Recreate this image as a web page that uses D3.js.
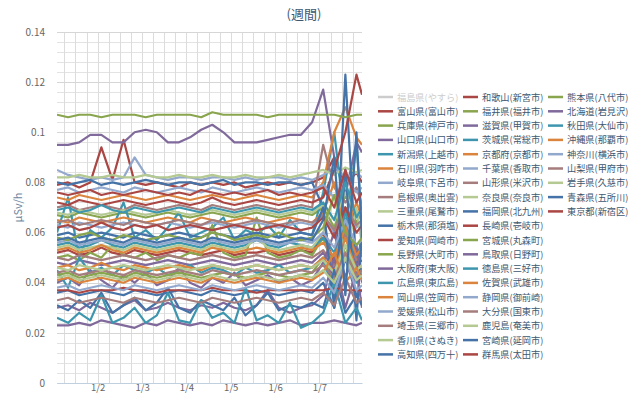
<!DOCTYPE html>
<html lang="ja">
<head>
<meta charset="UTF-8">
<title>週間</title>
<script src="https://cdn.jsdelivr.net/npm/d3@7"></script>
<style>
  body { margin: 0; background: #fff; }
  text { font-family: "Noto Sans CJK JP", "Noto Sans", sans-serif; }
</style>
</head>
<body>
<div id="chart"></div>
<script>
var width = 640, height = 395;
var margin = {top: 32, right: 278, bottom: 12, left: 57};
var plotW = 362 - margin.left, plotH = 383 - margin.top;

// 6時間ごとの観測時刻
var times = ["01/01 02:00","01/01 08:00","01/01 14:00","01/01 20:00",
  "01/02 02:00","01/02 08:00","01/02 14:00","01/02 20:00",
  "01/03 02:00","01/03 08:00","01/03 14:00","01/03 20:00",
  "01/04 02:00","01/04 08:00","01/04 14:00","01/04 20:00",
  "01/05 02:00","01/05 08:00","01/05 14:00","01/05 20:00",
  "01/06 02:00","01/06 08:00","01/06 14:00","01/06 20:00",
  "01/07 02:00","01/07 08:00","01/07 14:00","01/07 20:00","01/07 23:00"];
var xTicks = ["01/02 00:00","01/03 00:00","01/04 00:00","01/05 00:00","01/06 00:00","01/07 00:00"];
var xTickLabels = ["1/2","1/3","1/4","1/5","1/6","1/7"];
var yTicks = [0, 0.02, 0.04, 0.06, 0.08, 0.1, 0.12, 0.14];

// 凡例の順 (3列)
var names = ["福島県(やすら)","富山県(富山市)","兵庫県(神戸市)","山口県(山口市)","新潟県(上越市)","石川県(羽咋市)",
  "岐阜県(下呂市)","島根県(奥出雲)","三重県(尾鷲市)","栃木県(那須塩)","愛知県(岡崎市)","長野県(大町市)",
  "大阪府(東大阪)","広島県(東広島)","岡山県(笠岡市)","愛媛県(松山市)","埼玉県(三郷市)","香川県(さぬき)",
  "高知県(四万十)",
  "和歌山(新宮市)","福井県(福井市)","滋賀県(甲賀市)","茨城県(常総市)","京都府(京都市)","千葉県(香取市)",
  "山形県(米沢市)","奈良県(奈良市)","福岡県(北九州)","長崎県(壱岐市)","宮城県(丸森町)","鳥取県(日野町)",
  "徳島県(三好市)","佐賀県(武雄市)","静岡県(御前崎)","大分県(国東市)","鹿児島(奄美市)","宮崎県(延岡市)",
  "群馬県(太田市)",
  "熊本県(八代市)","北海道(岩見沢)","秋田県(大仙市)","沖縄県(那覇市)","神奈川(横浜市)","山梨県(甲府市)",
  "岩手県(久慈市)","青森県(五所川)","東京都(新宿区)"];
var hidden = ["福島県(やすら)"];

var fukushima = null;
var toyama    = [0.079,0.080,0.078,0.080,0.094,0.081,0.097,0.080,0.079,0.080,0.079,0.078,0.080,0.079,0.080,0.079,0.080,0.078,0.079,0.080,0.079,0.080,0.079,0.080,0.082,0.090,0.079,0.084,0.080];
var hyogo     = [0.067,0.066,0.068,0.067,0.066,0.067,0.068,0.067,0.066,0.067,0.068,0.067,0.066,0.067,0.068,0.067,0.066,0.067,0.068,0.067,0.066,0.067,0.068,0.067,0.070,0.062,0.075,0.064,0.068];
var yamaguchi = [0.095,0.095,0.096,0.099,0.099,0.096,0.096,0.100,0.101,0.100,0.096,0.096,0.098,0.101,0.103,0.100,0.096,0.096,0.096,0.097,0.098,0.099,0.099,0.104,0.117,0.090,0.075,0.096,0.092];
var niigata   = [0.060,0.074,0.050,0.061,0.058,0.062,0.072,0.058,0.061,0.057,0.062,0.068,0.058,0.060,0.062,0.066,0.057,0.061,0.059,0.063,0.058,0.065,0.060,0.059,0.076,0.100,0.062,0.095,0.064];
var ishikawa  = [0.074,0.073,0.075,0.074,0.073,0.074,0.075,0.074,0.073,0.074,0.075,0.074,0.073,0.074,0.075,0.074,0.073,0.074,0.075,0.074,0.073,0.074,0.075,0.074,0.080,0.100,0.110,0.098,0.095];
var gifu      = [0.085,0.083,0.082,0.081,0.082,0.081,0.082,0.090,0.083,0.082,0.081,0.082,0.082,0.081,0.082,0.082,0.081,0.082,0.081,0.082,0.082,0.081,0.082,0.081,0.083,0.086,0.082,0.084,0.082];
var shimane   = [0.070,0.071,0.069,0.070,0.071,0.070,0.069,0.071,0.070,0.069,0.070,0.071,0.070,0.069,0.071,0.070,0.069,0.070,0.071,0.070,0.069,0.070,0.071,0.070,0.095,0.078,0.072,0.078,0.071];
var mie       = [0.082,0.082,0.083,0.082,0.082,0.083,0.082,0.082,0.083,0.082,0.082,0.083,0.082,0.082,0.083,0.082,0.082,0.083,0.082,0.082,0.083,0.082,0.083,0.084,0.085,0.083,0.086,0.084,0.085];
var tochigi   = [0.080,0.079,0.080,0.081,0.079,0.080,0.079,0.080,0.081,0.080,0.079,0.080,0.080,0.079,0.080,0.081,0.079,0.080,0.080,0.079,0.080,0.080,0.079,0.080,0.070,0.035,0.123,0.045,0.060];
var aichi     = [0.052,0.053,0.051,0.052,0.054,0.052,0.051,0.053,0.052,0.051,0.052,0.053,0.052,0.051,0.052,0.053,0.051,0.052,0.052,0.053,0.051,0.052,0.053,0.052,0.060,0.048,0.058,0.052,0.054];
var nagano    = [0.050,0.051,0.049,0.052,0.050,0.055,0.051,0.050,0.052,0.049,0.051,0.050,0.052,0.051,0.063,0.052,0.050,0.051,0.066,0.052,0.050,0.051,0.053,0.051,0.058,0.045,0.065,0.050,0.052];
var osaka     = [0.048,0.047,0.049,0.048,0.047,0.048,0.049,0.048,0.047,0.048,0.049,0.048,0.047,0.048,0.049,0.048,0.047,0.048,0.049,0.048,0.047,0.048,0.049,0.048,0.052,0.045,0.060,0.047,0.049];
var hiroshima = [0.055,0.056,0.054,0.055,0.057,0.055,0.054,0.056,0.055,0.054,0.055,0.056,0.055,0.054,0.056,0.055,0.054,0.055,0.057,0.055,0.054,0.056,0.055,0.054,0.058,0.052,0.065,0.050,0.056];
var okayama   = [0.065,0.064,0.066,0.065,0.064,0.065,0.066,0.065,0.064,0.065,0.066,0.065,0.064,0.066,0.065,0.064,0.065,0.066,0.065,0.064,0.065,0.066,0.065,0.064,0.068,0.080,0.060,0.072,0.066];
var ehime     = [0.063,0.062,0.064,0.063,0.062,0.063,0.064,0.063,0.062,0.063,0.064,0.063,0.062,0.063,0.064,0.063,0.062,0.063,0.064,0.063,0.062,0.063,0.064,0.063,0.066,0.060,0.070,0.062,0.064];
var saitama   = [0.050,0.049,0.051,0.050,0.049,0.050,0.051,0.050,0.049,0.050,0.051,0.050,0.049,0.050,0.051,0.050,0.049,0.050,0.051,0.050,0.049,0.050,0.051,0.050,0.053,0.047,0.060,0.049,0.051];
var kagawa    = [0.054,0.055,0.053,0.054,0.055,0.054,0.053,0.055,0.054,0.053,0.054,0.055,0.054,0.053,0.055,0.054,0.053,0.054,0.058,0.054,0.053,0.054,0.055,0.054,0.060,0.075,0.050,0.070,0.055];
var kochi     = [0.036,0.037,0.035,0.036,0.037,0.036,0.035,0.037,0.036,0.035,0.036,0.037,0.036,0.035,0.037,0.036,0.035,0.036,0.037,0.036,0.035,0.036,0.037,0.036,0.040,0.030,0.050,0.035,0.037];
var wakayama  = [0.072,0.071,0.073,0.072,0.071,0.072,0.073,0.072,0.071,0.072,0.073,0.072,0.071,0.072,0.074,0.072,0.071,0.072,0.073,0.072,0.071,0.072,0.073,0.072,0.074,0.085,0.100,0.123,0.115];
var fukui     = [0.107,0.106,0.107,0.107,0.106,0.107,0.107,0.107,0.106,0.107,0.107,0.107,0.107,0.106,0.108,0.107,0.107,0.107,0.107,0.106,0.107,0.107,0.107,0.107,0.107,0.107,0.106,0.107,0.107];
var shiga     = [0.040,0.042,0.039,0.045,0.041,0.038,0.043,0.040,0.044,0.039,0.041,0.046,0.040,0.038,0.042,0.040,0.044,0.039,0.041,0.043,0.040,0.042,0.039,0.041,0.048,0.060,0.042,0.055,0.040];
var ibaraki   = [0.045,0.038,0.050,0.044,0.046,0.043,0.047,0.045,0.044,0.046,0.043,0.045,0.047,0.044,0.046,0.045,0.043,0.046,0.044,0.045,0.047,0.044,0.045,0.046,0.050,0.035,0.070,0.040,0.046];
var kyoto     = [0.053,0.054,0.052,0.053,0.055,0.053,0.052,0.054,0.053,0.052,0.053,0.054,0.053,0.052,0.054,0.053,0.052,0.053,0.054,0.053,0.052,0.053,0.054,0.053,0.056,0.050,0.062,0.051,0.054];
var chiba     = [0.077,0.078,0.076,0.077,0.078,0.077,0.076,0.078,0.077,0.076,0.077,0.078,0.077,0.076,0.078,0.077,0.076,0.077,0.078,0.077,0.076,0.077,0.078,0.077,0.079,0.074,0.082,0.076,0.078];
var yamagata  = [0.064,0.065,0.063,0.064,0.065,0.064,0.063,0.065,0.064,0.063,0.064,0.065,0.064,0.063,0.065,0.064,0.063,0.064,0.065,0.064,0.063,0.064,0.065,0.064,0.067,0.061,0.070,0.063,0.065];
var nara      = [0.068,0.067,0.069,0.068,0.067,0.068,0.069,0.068,0.067,0.068,0.069,0.068,0.067,0.068,0.069,0.068,0.067,0.068,0.069,0.068,0.067,0.068,0.069,0.068,0.071,0.065,0.076,0.067,0.069];
var fukuoka   = [0.059,0.060,0.058,0.059,0.060,0.059,0.058,0.060,0.059,0.058,0.059,0.060,0.059,0.058,0.060,0.059,0.058,0.059,0.060,0.059,0.058,0.059,0.060,0.059,0.070,0.030,0.085,0.025,0.060];
var nagasaki  = [0.062,0.063,0.061,0.062,0.064,0.062,0.061,0.063,0.062,0.063,0.061,0.062,0.063,0.062,0.061,0.062,0.063,0.062,0.061,0.062,0.063,0.062,0.061,0.062,0.066,0.058,0.070,0.060,0.063];
var miyagi    = [0.043,0.044,0.042,0.043,0.044,0.043,0.042,0.044,0.043,0.042,0.043,0.044,0.043,0.042,0.043,0.044,0.043,0.042,0.043,0.044,0.043,0.042,0.043,0.044,0.050,0.040,0.055,0.043,0.045];
var tottori   = [0.030,0.031,0.029,0.032,0.030,0.028,0.031,0.033,0.029,0.030,0.032,0.030,0.029,0.031,0.030,0.032,0.030,0.029,0.031,0.037,0.030,0.028,0.030,0.031,0.035,0.050,0.030,0.045,0.030];
var tokushima = [0.069,0.070,0.068,0.069,0.071,0.069,0.068,0.070,0.069,0.068,0.069,0.070,0.069,0.068,0.070,0.069,0.068,0.069,0.070,0.069,0.068,0.069,0.070,0.069,0.072,0.065,0.080,0.066,0.070];
var saga      = [0.046,0.047,0.045,0.046,0.048,0.046,0.045,0.047,0.046,0.045,0.046,0.047,0.046,0.045,0.047,0.046,0.045,0.046,0.047,0.046,0.045,0.046,0.047,0.046,0.050,0.044,0.058,0.045,0.047];
var shizuoka  = [0.056,0.057,0.055,0.056,0.057,0.056,0.055,0.057,0.056,0.055,0.056,0.057,0.056,0.055,0.057,0.056,0.055,0.056,0.057,0.056,0.055,0.056,0.057,0.056,0.060,0.054,0.065,0.055,0.057];
var oita      = [0.044,0.045,0.043,0.044,0.045,0.044,0.043,0.045,0.044,0.043,0.044,0.045,0.044,0.043,0.045,0.044,0.043,0.044,0.045,0.044,0.043,0.044,0.045,0.044,0.047,0.042,0.052,0.043,0.045];
var kagoshima = [0.046,0.045,0.047,0.046,0.045,0.046,0.047,0.046,0.045,0.046,0.047,0.046,0.045,0.046,0.047,0.046,0.045,0.046,0.047,0.046,0.045,0.046,0.047,0.046,0.049,0.044,0.055,0.045,0.047];
var miyazaki  = [0.031,0.029,0.033,0.030,0.036,0.028,0.031,0.034,0.029,0.032,0.038,0.030,0.028,0.033,0.031,0.029,0.034,0.027,0.031,0.036,0.029,0.031,0.030,0.032,0.030,0.045,0.028,0.035,0.031];
var gunma     = [0.037,0.037,0.036,0.037,0.037,0.037,0.038,0.037,0.037,0.036,0.037,0.037,0.037,0.037,0.038,0.037,0.037,0.037,0.036,0.037,0.037,0.037,0.037,0.037,0.037,0.038,0.037,0.037,0.037];
var kumamoto  = [0.058,0.057,0.059,0.060,0.058,0.057,0.059,0.058,0.057,0.058,0.059,0.058,0.057,0.058,0.060,0.059,0.057,0.058,0.059,0.058,0.060,0.058,0.057,0.058,0.062,0.075,0.060,0.055,0.058];
var hokkaido  = [0.023,0.023,0.024,0.023,0.025,0.024,0.023,0.022,0.024,0.023,0.025,0.024,0.023,0.024,0.023,0.025,0.024,0.023,0.024,0.023,0.024,0.025,0.023,0.024,0.024,0.025,0.024,0.023,0.024];
var akita     = [0.026,0.024,0.028,0.025,0.035,0.024,0.026,0.030,0.024,0.027,0.036,0.025,0.024,0.033,0.026,0.028,0.024,0.038,0.025,0.027,0.024,0.032,0.022,0.024,0.028,0.040,0.024,0.030,0.025];
var okinawa   = [0.041,0.042,0.040,0.041,0.042,0.041,0.040,0.042,0.041,0.040,0.041,0.042,0.041,0.040,0.042,0.041,0.040,0.041,0.042,0.041,0.040,0.041,0.042,0.041,0.044,0.052,0.040,0.046,0.041];
var kanagawa  = [0.038,0.039,0.037,0.038,0.039,0.038,0.037,0.039,0.038,0.037,0.038,0.039,0.038,0.037,0.039,0.038,0.037,0.038,0.039,0.038,0.037,0.038,0.039,0.038,0.042,0.036,0.050,0.037,0.039];
var yamanashi = [0.033,0.034,0.032,0.033,0.034,0.033,0.032,0.034,0.033,0.032,0.033,0.034,0.033,0.032,0.034,0.033,0.032,0.033,0.034,0.033,0.032,0.033,0.034,0.033,0.036,0.031,0.042,0.032,0.034];
var iwate     = [0.042,0.043,0.041,0.042,0.043,0.042,0.041,0.043,0.042,0.041,0.042,0.043,0.042,0.041,0.043,0.042,0.041,0.042,0.043,0.042,0.041,0.042,0.043,0.042,0.045,0.040,0.050,0.041,0.043];
var aomori    = [0.057,0.058,0.056,0.057,0.058,0.057,0.056,0.058,0.057,0.056,0.057,0.058,0.057,0.056,0.058,0.057,0.056,0.057,0.058,0.057,0.056,0.057,0.058,0.057,0.065,0.090,0.035,0.100,0.058];
var tokyo     = [0.076,0.075,0.076,0.077,0.075,0.076,0.075,0.076,0.077,0.076,0.075,0.076,0.075,0.077,0.076,0.075,0.076,0.075,0.076,0.077,0.075,0.076,0.075,0.076,0.078,0.070,0.085,0.072,0.076];

var values = [fukushima,toyama,hyogo,yamaguchi,niigata,ishikawa,gifu,shimane,mie,tochigi,aichi,nagano,
  osaka,hiroshima,okayama,ehime,saitama,kagawa,kochi,
  wakayama,fukui,shiga,ibaraki,kyoto,chiba,yamagata,nara,fukuoka,nagasaki,miyagi,tottori,
  tokushima,saga,shizuoka,oita,kagoshima,miyazaki,gunma,
  kumamoto,hokkaido,akita,okinawa,kanagawa,yamanashi,iwate,aomori,tokyo];

var palette = ["#4572A7","#AA4643","#89A54E","#80699B","#3D96AE","#DB843D","#92A8CD","#A47D7C","#B5CA92"];

var parse = d3.timeParse("%m/%d %H:%M");
var t = times.map(parse);

var svg = d3.select("#chart").append("svg")
    .attr("width", width)
    .attr("height", height);

var x = d3.scaleTime()
    .domain([parse("01/01 02:00"), parse("01/07 23:00")])
    .range([0, plotW]);
var y = d3.scaleLinear()
    .domain([0, 0.14])
    .range([plotH, 0]);

var g = svg.append("g")
    .attr("transform", "translate(" + margin.left + "," + margin.top + ")");

// グリッド
var minorY = d3.range(0, 36).map(function (i) { return i * 0.004; });
g.selectAll(".hgrid").data(minorY).enter().append("line")
    .attr("x1", 0).attr("x2", plotW)
    .attr("y1", function (d) { return Math.round(y(d)) + 0.5; })
    .attr("y2", function (d) { return Math.round(y(d)) + 0.5; })
    .attr("stroke", "#e3e3e3");
var vgrid = d3.timeHour.every(6).range(parse("01/01 02:00"), parse("01/07 23:30"));
g.selectAll(".vgrid").data(vgrid).enter().append("line")
    .attr("x1", function (d) { return Math.round(x(d)) + 0.5; })
    .attr("x2", function (d) { return Math.round(x(d)) + 0.5; })
    .attr("y1", 0).attr("y2", plotH)
    .attr("stroke", "#dcdcdc");
g.selectAll(".ygrid").data(yTicks).enter().append("line")
    .attr("x1", 0).attr("x2", plotW)
    .attr("y1", function (d) { return Math.round(y(d)) + 0.5; })
    .attr("y2", function (d) { return Math.round(y(d)) + 0.5; })
    .attr("stroke", "#d6d6d6");

// 軸
var yAxis = d3.axisLeft(y).tickValues(yTicks).tickSize(0).tickPadding(12)
    .tickFormat(function (d) { return String(+d.toFixed(2)); });
var gy = g.append("g").call(yAxis);
gy.select(".domain").remove();
gy.selectAll("text").attr("fill", "#666").style("font-size", "10px");

var xAxis = d3.axisBottom(x).tickValues(xTicks.map(parse)).tickSize(0).tickPadding(1)
    .tickFormat(function (d, i) { return xTickLabels[i]; });
var gx = g.append("g").attr("transform", "translate(0," + plotH + ")").call(xAxis);
gx.select(".domain").attr("stroke", "#c0d0e0");
gx.selectAll("text").attr("fill", "#666").style("font-size", "9.5px");

// 線
g.append("clipPath").attr("id", "clip").append("rect")
    .attr("width", plotW).attr("height", plotH);

var line = d3.line()
    .x(function (d, i) { return x(t[i]); })
    .y(function (d) { return y(d); });

var series = names.map(function (n, i) {
    return {name: n, values: values[i], color: palette[i % palette.length],
            hidden: hidden.indexOf(n) >= 0};
});

g.append("g").attr("clip-path", "url(#clip)")
    .selectAll("path")
    .data(series.filter(function (s) { return !s.hidden && s.values; }))
    .enter().append("path")
    .attr("d", function (s) { return line(s.values); })
    .attr("fill", "none")
    .attr("stroke", function (s) { return s.color; })
    .attr("stroke-width", 2.2)
    .attr("stroke-linejoin", "round");

// タイトル
svg.append("text")
    .attr("x", 304).attr("y", 19)
    .attr("text-anchor", "middle")
    .attr("fill", "#3E576F")
    .style("font-size", "13px")
    .text("(週間)");

svg.append("text")
    .attr("transform", "translate(22," + (margin.top + plotH / 2) + ") rotate(-90)")
    .attr("text-anchor", "middle")
    .attr("fill", "#6D869F")
    .style("font-size", "11px")
    .text("μSv/h");

// 凡例
var colX = [378, 463, 548];
var rowsPerCol = 19, rowH = 14.3;
var legend = svg.append("g");
var item = legend.selectAll("g").data(series).enter().append("g")
    .attr("transform", function (s, i) {
        var c = Math.floor(i / rowsPerCol), r = i % rowsPerCol;
        return "translate(" + colX[c] + "," + (97 + r * rowH) + ")";
    });
item.append("line")
    .attr("x1", 0).attr("x2", 15).attr("y1", 0).attr("y2", 0)
    .attr("stroke", function (s) { return s.hidden ? "#ccc" : s.color; })
    .attr("stroke-width", 2.5);
item.append("text")
    .attr("x", 19).attr("y", 3.5)
    .attr("fill", function (s) { return s.hidden ? "#ccc" : "#3E576F"; })
    .style("font-size", "9.2px")
    .text(function (s) { return s.name; });
</script>
</body>
</html>
